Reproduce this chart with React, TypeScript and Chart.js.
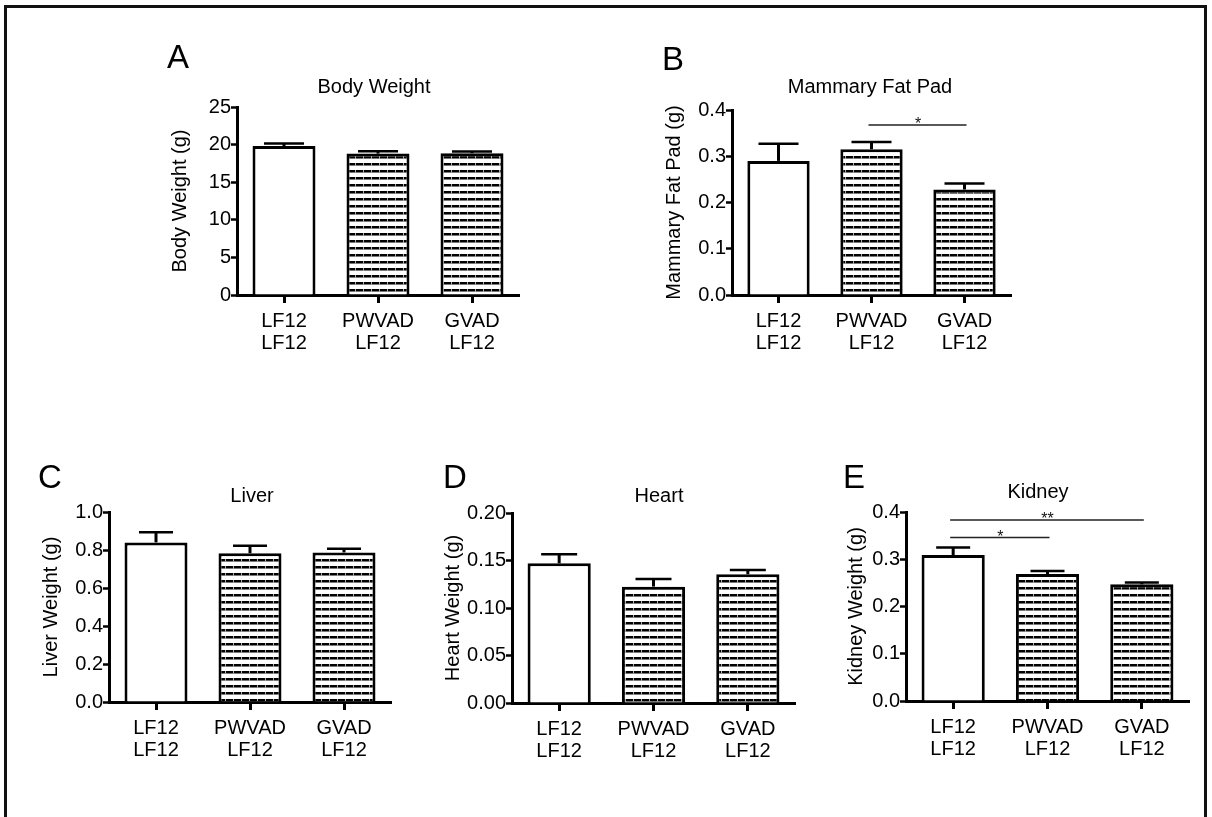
import React, { useEffect, useRef } from "react";
import { Chart, registerables } from "chart.js";

Chart.register(...registerables);

const FONT = '"Liberation Sans", Arial, Helvetica, sans-serif';

// ---------- data ----------
const categories = [
  ["LF12", "LF12"],
  ["PWVAD", "LF12"],
  ["GVAD", "LF12"],
];

const bodyWeight = [19.8, 18.8, 18.85];
const bodyWeightSem = [0.33, 0.3, 0.22];

const fatPad = [0.29, 0.315, 0.228];
const fatPadSem = [0.037, 0.016, 0.013];
const fatPadSig = [{ from: 1, to: 2, at: 0.3675, label: "*" }];

const liver = [0.84, 0.783, 0.787];
const liverSem = [0.053, 0.04, 0.02];

const heart = [0.147, 0.1225, 0.1355];
const heartSem = [0.0095, 0.0081, 0.0045];

const kidney = [0.309, 0.2688, 0.247];
const kidneySem = [0.016, 0.0063, 0.004];
const kidneySig = [
  { from: 0, to: 1, at: 0.346, label: "*" },
  { from: 0, to: 2, at: 0.383, label: "**" },
];

type Sig = { from: number; to: number; at: number; label: string };

type Panel = {
  letter: string;
  title: string;
  yTitle: string;
  values: number[];
  sem: number[];
  max: number;
  step: number;
  decimals: number;
  sig: Sig[];
  L: number;
  T: number;
  W: number;
  H: number;
  axisX: number;
  axisTop: number;
  axisZero: number;
  axisEnd: number;
  yTitleX: number;
  letterPos: [number, number];
  titlePos: [number, number];
  cap: number;
};

const panels: Panel[] = [
  {
    letter: "A", title: "Body Weight", yTitle: "Body Weight (g)",
    values: bodyWeight, sem: bodyWeightSem, max: 25, step: 5, decimals: 0, sig: [],
    L: 140, T: 30, W: 400, H: 380,
    axisX: 237, axisTop: 107, axisZero: 295, axisEnd: 519,
    yTitleX: 180, letterPos: [167, 68], titlePos: [374, 93], cap: 40,
  },
  {
    letter: "B", title: "Mammary Fat Pad", yTitle: "Mammary Fat Pad (g)",
    values: fatPad, sem: fatPadSem, max: 0.4, step: 0.1, decimals: 1, sig: fatPadSig,
    L: 630, T: 30, W: 400, H: 380,
    axisX: 732, axisTop: 110, axisZero: 295, axisEnd: 1011,
    yTitleX: 674, letterPos: [662, 70], titlePos: [870, 93], cap: 40,
  },
  {
    letter: "C", title: "Liver", yTitle: "Liver Weight (g)",
    values: liver, sem: liverSem, max: 1.0, step: 0.2, decimals: 1, sig: [],
    L: 10, T: 440, W: 400, H: 370,
    axisX: 109, axisTop: 512, axisZero: 702, axisEnd: 391,
    yTitleX: 51, letterPos: [38, 488], titlePos: [252, 502], cap: 34,
  },
  {
    letter: "D", title: "Heart", yTitle: "Heart Weight (g)",
    values: heart, sem: heartSem, max: 0.2, step: 0.05, decimals: 2, sig: [],
    L: 410, T: 440, W: 400, H: 370,
    axisX: 512, axisTop: 513, axisZero: 703, axisEnd: 795,
    yTitleX: 453, letterPos: [443, 488], titlePos: [659, 502], cap: 36,
  },
  {
    letter: "E", title: "Kidney", yTitle: "Kidney Weight (g)",
    values: kidney, sem: kidneySem, max: 0.4, step: 0.1, decimals: 1, sig: kidneySig,
    L: 810, T: 440, W: 395, H: 370,
    axisX: 906, axisTop: 512, axisZero: 701, axisEnd: 1189,
    yTitleX: 856, letterPos: [843, 488], titlePos: [1038, 498], cap: 34,
  },
];

function makeHatch(ctx: CanvasRenderingContext2D) {
  const c = document.createElement("canvas");
  c.width = 8;
  c.height = 7;
  const g = c.getContext("2d")!;
  g.fillStyle = "#fff";
  g.fillRect(0, 0, 8, 7);
  g.fillStyle = "#000";
  g.fillRect(0, 0, 8, 2);
  g.fillStyle = "#777";
  g.fillRect(0, 2, 8, 1);
  g.fillStyle = "#aaa";
  g.fillRect(7, 0, 1, 3);
  return ctx.createPattern(c, "repeat")!;
}

function PanelChart({ p }: { p: Panel }) {
  const ref = useRef<HTMLCanvasElement>(null);

  useEffect(() => {
    const canvas = ref.current!;
    const ctx0 = canvas.getContext("2d")!;
    const hatch = makeHatch(ctx0);

    const overlay = {
      id: "overlay" + p.letter,
      afterDatasetsDraw(chart: any) {
        const ctx = chart.ctx as CanvasRenderingContext2D;
        const xs = chart.scales.x;
        const ys = chart.scales.y;
        ctx.save();
        ctx.strokeStyle = "#000";
        ctx.lineCap = "butt";
        p.values.forEach((v, i) => {
          const cx = xs.getPixelForValue(i);
          const y0 = ys.getPixelForValue(v);
          const y1 = ys.getPixelForValue(v + p.sem[i]);
          ctx.lineWidth = 3;
          ctx.beginPath();
          ctx.moveTo(cx, y0);
          ctx.lineTo(cx, y1);
          ctx.stroke();
          ctx.lineWidth = 2.5;
          ctx.beginPath();
          ctx.moveTo(cx - p.cap / 2, y1);
          ctx.lineTo(cx + p.cap / 2, y1);
          ctx.stroke();
        });
        p.sig.forEach((s) => {
          const xa = xs.getPixelForValue(s.from);
          const xb = xs.getPixelForValue(s.to);
          const yy = ys.getPixelForValue(s.at);
          ctx.strokeStyle = "#222";
          ctx.lineWidth = 1.5;
          ctx.beginPath();
          ctx.moveTo(xa - 3, yy);
          ctx.lineTo(xb + 2, yy);
          ctx.stroke();
          ctx.fillStyle = "#111";
          ctx.font = `16px ${FONT}`;
          ctx.textAlign = "center";
          ctx.textBaseline = "alphabetic";
          ctx.fillText(s.label, (xa + xb) / 2, yy + 4);
        });
        ctx.restore();
      },
      afterDraw(chart: any) {
        const ctx = chart.ctx as CanvasRenderingContext2D;
        ctx.save();
        ctx.fillStyle = "#000";
        ctx.textBaseline = "alphabetic";
        ctx.font = `33px ${FONT}`;
        ctx.textAlign = "left";
        ctx.fillText(p.letter, p.letterPos[0] - p.L, p.letterPos[1] - p.T);
        ctx.font = `20px ${FONT}`;
        ctx.textAlign = "center";
        ctx.fillText(p.title, p.titlePos[0] - p.L, p.titlePos[1] - p.T);
        ctx.restore();
      },
    };

    const chart = new Chart(canvas, {
      type: "bar",
      data: {
        labels: categories,
        datasets: [
          {
            data: p.values,
            backgroundColor: ["#fff", hatch, hatch] as any,
            borderColor: "#000",
            borderWidth: 3,
            barPercentage: 0.67,
            categoryPercentage: 1,
          },
        ],
      },
      options: {
        responsive: false,
        animation: false,
        events: [],
        layout: {
          padding: {
            left: 0,
            top: p.axisTop - p.T,
            right: p.L + p.W - p.axisEnd,
            bottom: 0,
          },
        },
        plugins: {
          legend: { display: false },
          tooltip: { enabled: false },
          title: { display: false },
        },
        scales: {
          x: {
            afterFit: (s: any) => {
              s.height = p.T + p.H - p.axisZero;
            },
            border: { display: true, color: "#000", width: 3 },
            grid: {
              offset: false,
              drawOnChartArea: false,
              drawTicks: true,
              tickLength: 8,
              tickWidth: 3,
              tickColor: "#000",
            },
            ticks: {
              color: "#000",
              font: { family: FONT, size: 20, lineHeight: 1.1 },
              padding: 7,
              maxRotation: 0,
              autoSkip: false,
            },
          },
          y: {
            min: 0,
            max: p.max,
            afterFit: (s: any) => {
              s.width = p.axisX - p.L;
            },
            border: { display: true, color: "#000", width: 3 },
            grid: {
              drawOnChartArea: false,
              drawTicks: true,
              tickLength: 6,
              tickWidth: 2.5,
              tickColor: "#000",
            },
            ticks: {
              stepSize: p.step,
              color: "#000",
              font: { family: FONT, size: 20 },
              padding: 0,
              callback: (v: any) => Number(v).toFixed(p.decimals),
            },
            title: {
              display: true,
              text: p.yTitle,
              color: "#000",
              font: { family: FONT, size: 20, lineHeight: 1.2 },
              padding: { top: p.yTitleX - p.L - 12, bottom: 0 },
            },
          },
        },
      },
      plugins: [overlay],
    });

    return () => chart.destroy();
  }, [p]);

  return (
    <canvas
      ref={ref}
      width={p.W}
      height={p.H}
      style={{ position: "absolute", left: p.L, top: p.T, width: p.W, height: p.H }}
    />
  );
}

export default function App() {
  return (
    <div
      style={{
        position: "absolute",
        left: 0,
        top: 0,
        width: 1212,
        height: 817,
        overflow: "hidden",
        background: "#fff",
        fontFamily: FONT,
      }}
    >
      <div
        style={{
          position: "absolute",
          left: 4,
          top: 5,
          width: 1203,
          height: 840,
          border: "3px solid #111",
          boxSizing: "border-box",
        }}
      />
      {panels.map((p) => (
        <PanelChart key={p.letter} p={p} />
      ))}
    </div>
  );
}
